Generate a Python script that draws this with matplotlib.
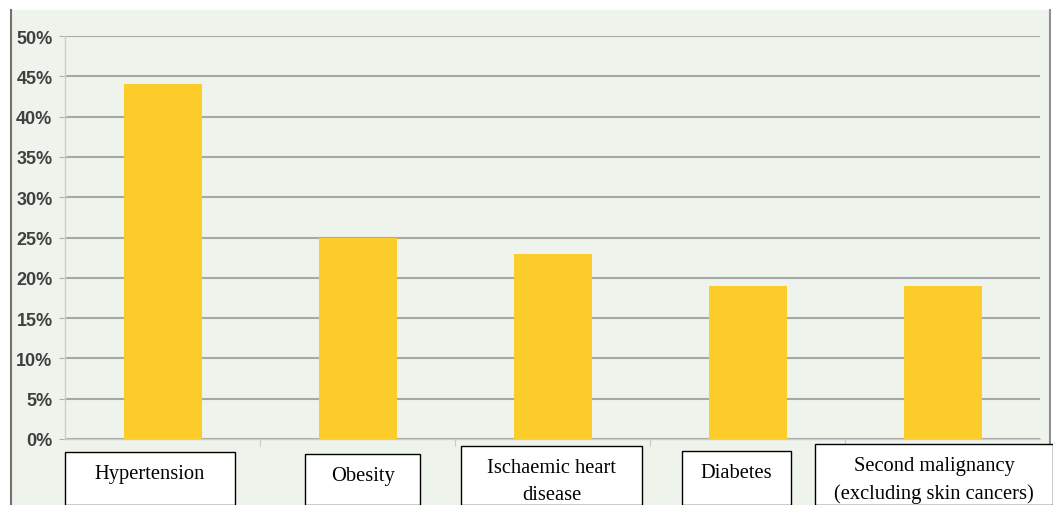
import matplotlib
matplotlib.use('Agg')
import matplotlib.pyplot as plt
import matplotlib.patches as patches
from matplotlib.ticker import PercentFormatter

# Late effects prevalence by condition
conditions = ['Hypertension', 'Obesity', 'Ischaemic heart\ndisease', 'Diabetes',
              'Second malignancy\n(excluding skin cancers)']
prevalence = [0.44, 0.25, 0.23, 0.19, 0.19]
y_ticks = [0, 0.05, 0.10, 0.15, 0.20, 0.25, 0.30, 0.35, 0.40, 0.45, 0.50]

# label boxes in figure pixels: (left, top, width)
label_boxes = [(65, 453, 170), (305, 455, 115), (461, 447, 181), (682, 452, 109), (815, 445, 238)]

W, H = 1053, 506
fig = plt.figure(figsize=(W / 100, H / 100), dpi=100)
fig.patch.set_facecolor('white')

# panel background with dark left edge
panel = patches.Rectangle((11 / W, 0), (1050 - 11) / W, (H - 11) / H, transform=fig.transFigure,
                          facecolor='#eef4ec', edgecolor='none', zorder=-2)
fig.patches.append(panel)
fig.add_artist(plt.Line2D([11 / W, 11 / W], [0, (H - 11) / H], color='#707070', lw=1.5, zorder=-1))
fig.add_artist(plt.Line2D([1050 / W, 1050 / W], [0, (H - 11) / H], color='#909090', lw=1.5, zorder=-1))

ax = fig.add_axes([65 / W, 1 - 440 / H, (1040 - 65) / W, (440 - 37) / H])
ax.set_facecolor('none')
ax.set_zorder(1)

x = list(range(len(conditions)))
ax.bar(x, prevalence, width=0.4, color='#fccd2a', zorder=3)

ax.set_xlim(-0.5, len(conditions) - 0.5)
ax.set_ylim(0, 0.5)
ax.set_yticks(y_ticks)
ax.yaxis.set_major_formatter(PercentFormatter(1.0, decimals=0))
ax.grid(axis='y', color='#a8a8a8', lw=1.5, zorder=1)
ax.set_axisbelow(True)

for side in ['top', 'right']:
    ax.spines[side].set_visible(False)
ax.spines['left'].set_color('#cccccc')
ax.spines['bottom'].set_color('#cccccc')
ax.spines['left'].set_linewidth(1.0)
ax.spines['bottom'].set_linewidth(1.0)

ax.tick_params(axis='y', length=4, color='#b0b0b0', labelsize=13, labelcolor='#404040', pad=5)
for lbl in ax.get_yticklabels():
    lbl.set_fontfamily('Liberation Sans')
    lbl.set_fontweight('bold')

# category separators on the bottom axis, labels go into boxes instead
ax.set_xticks([i + 0.5 for i in x[:-1]])
ax.set_xticklabels([])
ax.tick_params(axis='x', length=5, color='#c8c8c8')

for (left, top, width), name in zip(label_boxes, conditions):
    box = patches.Rectangle((left / W, 0), width / W, (H - top) / H, transform=fig.transFigure,
                            facecolor='white', edgecolor='black', lw=1.0, zorder=5)
    fig.add_artist(box)
    fig.text((left + width / 2) / W, (H - top - 12) / H, name, ha='center', va='top',
             fontsize=14.8, family='Liberation Serif', linespacing=1.55, zorder=6)

plt.savefig('out.png', dpi=100, facecolor='white')
plt.close()
